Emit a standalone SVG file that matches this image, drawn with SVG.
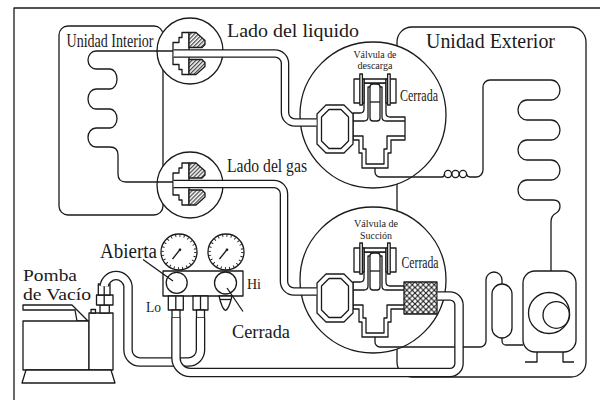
<svg xmlns="http://www.w3.org/2000/svg" width="600" height="400" viewBox="0 0 600 400">
  <style>
    .ln{fill:none;stroke:#1a1a1a;stroke-width:1.3;stroke-linejoin:round}
    .wf{fill:#fff;stroke:#1a1a1a;stroke-width:1.3;stroke-linejoin:round}
    .tube-o{fill:none;stroke:#1a1a1a;stroke-width:8.6}
    .tube-i{fill:none;stroke:#fff;stroke-width:6}
    .hose-o{fill:none;stroke:#1a1a1a;stroke-width:9.6}
    .hose-i{fill:none;stroke:#fff;stroke-width:7}
    .ticks{fill:none;stroke:#1a1a1a;stroke-width:2.4;stroke-dasharray:0.9 3.37}
    text{font-family:"Liberation Serif","Times New Roman",serif;fill:#1a1a1a}
  </style>
  <defs>
    <pattern id="hatch" width="2.8" height="2.8" patternUnits="userSpaceOnUse" patternTransform="rotate(45)">
      <rect width="2.8" height="2.8" fill="#fff"/>
      <line x1="0.7" y1="0" x2="0.7" y2="2.8" stroke="#1a1a1a" stroke-width="1"/>
    </pattern>
    <pattern id="xhatch" x="404" y="282" width="5.5" height="5.5" patternUnits="userSpaceOnUse">
      <rect width="5.5" height="5.5" fill="#fff"/>
      <path d="M0,0L5.5,5.5M5.5,0L0,5.5" stroke="#1a1a1a" stroke-width="1.1"/>
    </pattern>
    <!-- flare union seen in section, origin at the tube axis -->
    <g id="flare-fitting">
      <path class="ln" d="M-17,-11H-11V-16H-8V-21H-1V21H-8V16H-11V11H-17Z"/>
      <path class="ln" style="fill:url(#hatch)" d="M-1,-21H6L15,-13V-9L12,-6H-1Z"/>
      <path class="ln" style="fill:url(#hatch)" d="M-1,21H6L15,13V9L12,6H-1Z"/>
    </g>
    <!-- service valve body, nut and spindle (drawn at the liquid-side position) -->
    <g id="valve-core">
      <path class="wf" d="M353,113H360Q364,113 364,109V83H386V113Q386,117 390,117H405V140H391V153H388V168H362V153H359V140H353Z"/>
      <path class="ln" d="M353,121H364Q368,121 368,117V87H382V117Q382,121 386,121H405M405,136H387V149H384V164H366V149H363V136H353"/>
      <rect class="wf" x="364" y="79" width="22" height="4"/>
      <rect class="wf" x="354" y="79" width="10" height="24"/>
      <rect class="wf" x="386" y="79" width="10" height="24"/>
      <rect class="wf" x="359.8" y="74" width="2.6" height="31"/>
      <rect class="wf" x="387.6" y="74" width="2.6" height="31"/>
      <rect class="wf" x="370" y="84" width="10" height="37" rx="3"/>
      <path class="ln" d="M370,102H380"/>
      <path class="wf" d="M326,105H344L353,114V144L344,153H326L317,144V114Z"/>
      <path class="ln" d="M329,109.5H341L348.5,117V141L341,148.5H329L321.5,141V117Z"/>
    </g>
    <g id="gauge-dial">
      <circle class="wf" r="18"/>
      <circle class="ticks" r="16.3"/>
    </g>
  </defs>

  <rect width="600" height="400" fill="#fff"/>
  <path class="ln" d="M14,400V8H600"/>

  <g id="indoor-unit">
    <rect class="ln" x="59" y="26" width="104" height="189" rx="9"/>
    <text x="66.5" y="46.5" font-size="18" textLength="87" lengthAdjust="spacingAndGlyphs">Unidad Interior</text>
  </g>

  <g id="outdoor-unit">
    <rect class="ln" x="397" y="27" width="189" height="350" rx="15"/>
    <text x="426" y="48" font-size="21.5" textLength="129" lengthAdjust="spacingAndGlyphs">Unidad Exterior</text>
  </g>

  <g id="flare-liquid">
    <circle class="wf" cx="190" cy="51" r="33"/>
    <use href="#flare-fitting" x="190" y="53.5"/>
    <text x="227" y="37.3" font-size="19.5" textLength="132" lengthAdjust="spacingAndGlyphs">Lado del liquido</text>
  </g>

  <g id="flare-gas">
    <circle class="wf" cx="190" cy="185" r="33"/>
    <use href="#flare-fitting" x="190" y="184"/>
    <text x="227" y="171.5" font-size="19.5" textLength="80" lengthAdjust="spacingAndGlyphs">Lado del gas</text>
  </g>

  <g id="valve-discharge">
    <circle class="wf" cx="373" cy="115" r="73"/>
    <use href="#valve-core"/>
    <text x="375" y="58.3" font-size="9.8" text-anchor="middle" textLength="43" lengthAdjust="spacingAndGlyphs">Válvula de</text>
    <text x="375" y="69.4" font-size="9.8" text-anchor="middle" textLength="35" lengthAdjust="spacingAndGlyphs">descarga</text>
    <text x="400" y="100.5" font-size="17" textLength="38" lengthAdjust="spacingAndGlyphs">Cerrada</text>
  </g>

  <g id="valve-suction">
    <circle class="wf" cx="373" cy="280" r="73"/>
    <use href="#valve-core" y="169"/>
    <rect class="ln" style="fill:url(#xhatch)" x="404" y="282" width="33" height="32"/>
    <text x="376" y="227" font-size="9.8" text-anchor="middle" textLength="44" lengthAdjust="spacingAndGlyphs">Válvula de</text>
    <text x="376" y="238.5" font-size="9.8" text-anchor="middle" textLength="32" lengthAdjust="spacingAndGlyphs">Succión</text>
    <text x="401.5" y="268.3" font-size="17" textLength="37" lengthAdjust="spacingAndGlyphs">Cerrada</text>
  </g>

  <g id="indoor-coil">
    <path class="ln" d="M173,51H96A8,9 0 0 0 96,69H110A7,10 0 0 1 110,89H96A8,10 0 0 0 96,109H110A7,9.5 0 0 1 110,128H96A8,9.5 0 0 0 96,147H110Q118,147 118,155V174Q118,182 126,182H173"/>
  </g>

  <g id="condenser-coil">
    <path class="ln" d="M470,177H476A7,7 0 0 0 483,170V87A7,7 0 0 1 490,80H551A9,10 0 0 1 551,100H527A9,10 0 0 0 527,120H551A9,10 0 0 1 551,140H527A9,10 0 0 0 527,160H551A9,10 0 0 1 551,180H527A9,10 0 0 0 527,200H553Q560,200 560,206Q560,211 555.5,213.5Q551,216 551,222V271"/>
  </g>

  <g id="capillary">
    <circle class="ln" cx="448" cy="174" r="3.6"/>
    <circle class="ln" cx="455.5" cy="174" r="3.6"/>
    <circle class="ln" cx="463" cy="174" r="3.6"/>
    <path class="ln" d="M466.6,174Q467,177 470,177"/>
  </g>

  <g id="accumulator">
    <rect class="ln" x="492" y="284" width="20" height="54" rx="10"/>
  </g>

  <g id="compressor">
    <rect class="wf" x="523" y="271" width="53" height="81" rx="12"/>
    <circle class="ln" cx="549" cy="313" r="20.5"/>
    <circle class="ln" cx="556.3" cy="315" r="13.3"/>
    <path class="ln" d="M525,362H537V352M563,352V362H574"/>
  </g>

  <g id="manifold-gauge">
    <use href="#gauge-dial" x="179" y="252"/>
    <use href="#gauge-dial" x="226" y="252"/>
    <path class="ln" d="M172.5,259L180.5,249M219.5,259L227.5,249"/>
    <circle cx="180" cy="249.8" r="1.3" fill="#1a1a1a"/>
    <circle cx="227" cy="249.8" r="1.3" fill="#1a1a1a"/>
    <rect class="wf" x="163" y="271" width="80" height="25"/>
    <circle class="wf" cx="176.7" cy="282.8" r="10.5"/>
    <circle class="wf" cx="225.5" cy="283" r="11"/>
    <path class="wf" d="M219,296Q222,309 225.5,310.5Q229,309 232,296Z"/>
    <path class="ln" d="M220,299.5H231"/>
    <rect class="wf" x="168.3" y="296" width="15" height="14"/>
    <path class="ln" d="M175.8,296V310"/>
    <rect class="wf" x="172" y="310" width="8" height="8"/>
    <rect class="wf" x="193" y="296" width="15" height="14"/>
    <path class="ln" d="M200.5,296V310"/>
    <rect class="wf" x="196.5" y="310" width="8" height="8"/>
    <path class="ln" d="M143,259.5L173,281M227,288L243,311.5"/>
    <text x="100" y="257.5" font-size="20" textLength="57" lengthAdjust="spacingAndGlyphs">Abierta</text>
    <text x="247" y="288.5" font-size="15.5" textLength="14" lengthAdjust="spacingAndGlyphs">Hi</text>
    <text x="146" y="312" font-size="15.5" textLength="15" lengthAdjust="spacingAndGlyphs">Lo</text>
    <text x="232" y="338" font-size="19" textLength="58" lengthAdjust="spacingAndGlyphs">Cerrada</text>
  </g>

  <g id="vacuum-pump">
    <path class="wf" d="M23,305H72L88,321H77L75,310H23Z"/>
    <rect class="wf" x="23" y="321" width="66" height="49"/>
    <rect class="wf" x="89" y="313" width="24" height="57"/>
    <rect class="wf" x="91" y="309.5" width="4.5" height="3.5"/>
    <path class="wf" d="M26,370H111L115,383H22Z"/>
    <rect class="wf" x="100" y="305" width="9.3" height="8"/>
    <rect class="wf" x="96.5" y="295" width="16.5" height="10"/>
    <rect class="wf" x="98.3" y="284" width="11.7" height="11"/>
    <path class="ln" d="M104.2,284V305"/>
    <text x="23" y="280.8" font-size="17" textLength="54" lengthAdjust="spacingAndGlyphs">Pomba</text>
    <text x="23" y="299.8" font-size="17" textLength="68" lengthAdjust="spacingAndGlyphs">de Vacío</text>
  </g>

  <g id="connectors">
    <!-- liquid line: flare union to discharge valve -->
    <path class="tube-o" d="M173.6,53.5H275A10,10 0 0 1 285,63.5V112.5A10,10 0 0 0 295,122.5H316.6"/>
    <path class="tube-i" d="M173.6,53.5H275A10,10 0 0 1 285,63.5V112.5A10,10 0 0 0 295,122.5H316.6"/>
    <!-- gas line: flare union to suction valve -->
    <path class="tube-o" d="M173.6,184H274A10,10 0 0 1 284,194V281.5A10,10 0 0 0 294,291.5H316.6"/>
    <path class="tube-i" d="M173.6,184H274A10,10 0 0 1 284,194V281.5A10,10 0 0 0 294,291.5H316.6"/>
    <!-- discharge valve to capillary -->
    <path class="ln" d="M375,168V172A5,5 0 0 0 380,177H442Q444.4,177 444.4,174"/>
    <!-- suction valve to accumulator and compressor -->
    <path class="ln" d="M375,337V342A5,5 0 0 0 380,347H480A6,6 0 0 0 486,341V280A8,8 0 0 1 502,280V284"/>
    <path class="ln" d="M502,338V341A4,4 0 0 0 506,345H523"/>
    <!-- charge hose: pump to manifold centre port -->
    <path class="hose-o" d="M200.5,318V350A12,12 0 0 1 188.5,362H140A12,12 0 0 1 128,350V286A12,12 0 0 0 104.2,286V284.6"/>
    <path class="hose-i" d="M200.5,318V350A12,12 0 0 1 188.5,362H140A12,12 0 0 1 128,350V286A12,12 0 0 0 104.2,286V284.6"/>
    <!-- low-side hose: manifold Lo port to suction service port -->
    <path class="hose-o" d="M176,318V358A14.5,14.5 0 0 0 190.5,372.5H450A9,9 0 0 0 459,363.5V305A9,9 0 0 0 450,296H437.6"/>
    <path class="hose-i" d="M176,318V358A14.5,14.5 0 0 0 190.5,372.5H450A9,9 0 0 0 459,363.5V305A9,9 0 0 0 450,296H437.6"/>
  </g>
</svg>
